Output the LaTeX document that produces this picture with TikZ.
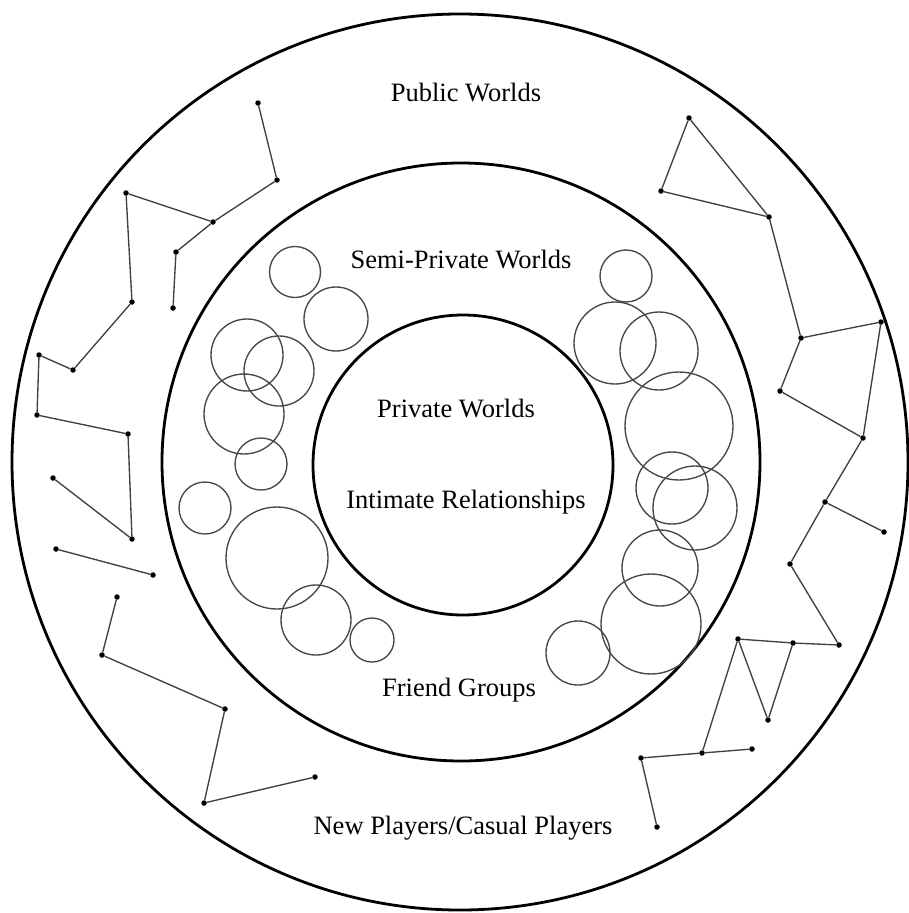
\documentclass[tikz,border=0pt]{standalone}
\usepackage{fontspec}
\setmainfont{Liberation Serif}
\begin{document}
\begin{tikzpicture}[x=1pt,y=-1pt,
  bigring/.style={draw=black,line width=2.8pt},
  group/.style={draw=black!72,line width=1.35pt},
  dot/.style={circle,fill=black,inner sep=0pt,minimum size=5.5pt},
  link/.style={draw=black!75,line width=1.35pt},
  lbl/.style={font=\fontsize{26.5}{30}\selectfont,anchor=base,inner sep=0pt}]
\useasboundingbox (0,0) rectangle (909,913);
\fill[white] (0,0) rectangle (909,913);
% concentric rings
\draw[bigring] (460,462) circle [radius=448pt];
\draw[bigring] (461,462) circle [radius=299pt];
\draw[bigring] (463,465) circle [radius=150pt];
% friend-group circles, left
\draw[group] (295,272) circle [radius=25.5pt];
\draw[group] (336,319) circle [radius=32pt];
\draw[group] (247,355) circle [radius=36pt];
\draw[group] (279,371) circle [radius=35pt];
\draw[group] (244,414) circle [radius=40pt];
\draw[group] (261,464) circle [radius=26pt];
\draw[group] (205,508) circle [radius=26pt];
\draw[group] (277,558) circle [radius=51pt];
\draw[group] (316,620) circle [radius=35pt];
\draw[group] (372,640) circle [radius=22pt];
% friend-group circles, right
\draw[group] (626,276) circle [radius=26pt];
\draw[group] (615,343) circle [radius=41pt];
\draw[group] (659,351) circle [radius=39pt];
\draw[group] (679,426) circle [radius=54pt];
\draw[group] (672,488) circle [radius=36pt];
\draw[group] (695,508) circle [radius=42pt];
\draw[group] (660,568) circle [radius=38pt];
\draw[group] (651,624) circle [radius=50pt];
\draw[group] (578,653) circle [radius=32pt];
% left networks
\node[dot] (a1) at (258,103) {};
\node[dot] (a2) at (277,180) {};
\node[dot] (a3) at (213,222) {};
\node[dot] (a4) at (126,193) {};
\node[dot] (a5) at (132,302) {};
\node[dot] (a6) at (73,370) {};
\node[dot] (a7) at (39,355) {};
\node[dot] (a8) at (176,252) {};
\node[dot] (a9) at (173,308) {};
\node[dot] (b1) at (37,415) {};
\node[dot] (b2) at (128,434) {};
\node[dot] (b3) at (132,539) {};
\node[dot] (b4) at (53,478) {};
\draw[link] (a1)--(a2)--(a3)--(a4)--(a5)--(a6)--(a7)--(b1)--(b2)--(b3)--(b4);
\draw[link] (a3)--(a8)--(a9);
\node[dot] (c1) at (56,549) {};
\node[dot] (c2) at (153,575) {};
\draw[link] (c1)--(c2);
\node[dot] (d1) at (117,597) {};
\node[dot] (d2) at (102,655) {};
\node[dot] (d3) at (225,709) {};
\node[dot] (d4) at (204,803) {};
\node[dot] (d5) at (315,777) {};
\draw[link] (d1)--(d2)--(d3)--(d4)--(d5);
% right networks
\node[dot] (e1) at (689,118) {};
\node[dot] (e2) at (661,191) {};
\node[dot] (e3) at (769,217) {};
\node[dot] (e4) at (801,338) {};
\node[dot] (e5) at (881,322) {};
\node[dot] (e6) at (780,391) {};
\node[dot] (e7) at (863,438) {};
\draw[link] (e1)--(e2)--(e3)--(e1);
\draw[link] (e3)--(e4)--(e5)--(e7)--(e6)--(e4);
\node[dot] (f1) at (825,502) {};
\node[dot] (f2) at (884,532) {};
\node[dot] (f3) at (790,564) {};
\node[dot] (f4) at (839,645) {};
\node[dot] (f5) at (793,643) {};
\node[dot] (f6) at (738,639) {};
\node[dot] (f7) at (768,720) {};
\node[dot] (f8) at (702,753) {};
\node[dot] (f9) at (752,749) {};
\node[dot] (f10) at (641,758) {};
\node[dot] (f11) at (657,827) {};
\draw[link] (e7)--(f1)--(f3)--(f4)--(f5)--(f6)--(f7)--(f5);
\draw[link] (f1)--(f2);
\draw[link] (f6)--(f8);
\draw[link] (f10)--(f8)--(f9);
\draw[link] (f10)--(f11);
% labels
\node[lbl] (pub) at (466,101) {Public Worlds};
\node[lbl] (semi) at (461,268) {Semi-Private Worlds};
\node[lbl] (priv) at (456,417) {Private Worlds};
\node[lbl] (intim) at (466,508) {Intimate Relationships};
\node[lbl] (friend) at (459,696) {Friend Groups};
\node[lbl] (newp) at (463,834) {New Players/Casual Players};
\end{tikzpicture}
\end{document}
